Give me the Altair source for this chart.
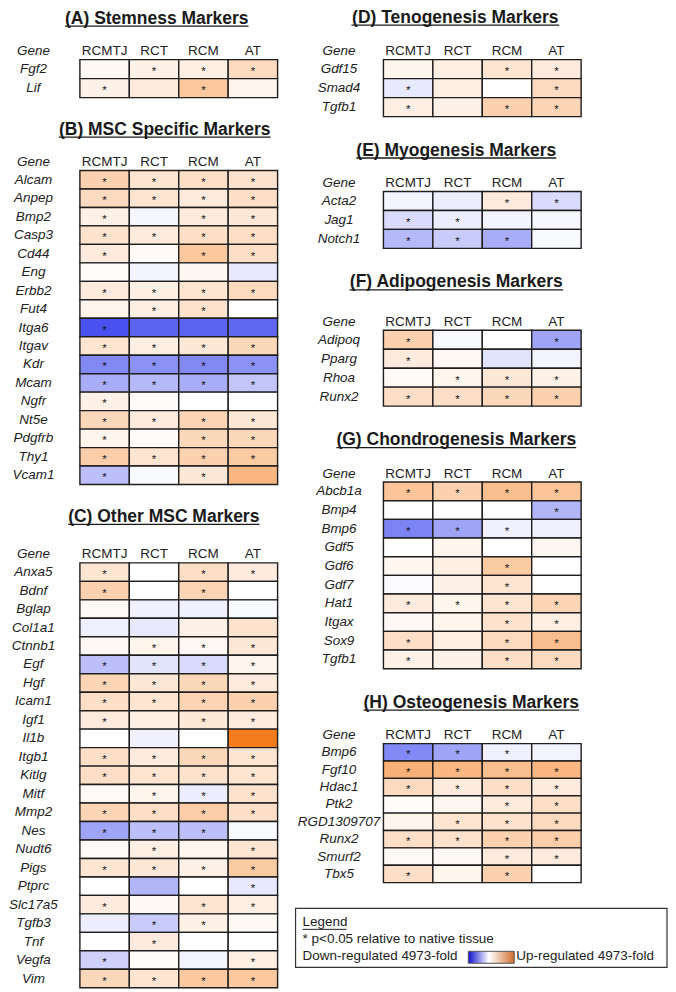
import altair as alt
import pandas as pd

CONDITIONS = ["RCMTJ", "RCT", "RCM", "AT"]

# ---- (A) Stemness Markers
A_GENES = ["Fgf2", "Lif"]
A_VALUES = [[0.05, 0.10, 0.12, 0.28],
            [0.10, 0.15, 0.42, 0.08]]
A_STARS = [[0, 1, 1, 1],
           [1, 0, 1, 0]]

# ---- (B) MSC Specific Markers
B_GENES = ["Alcam", "Anpep", "Bmp2", "Casp3", "Cd44", "Eng", "Erbb2", "Fut4", "Itga6",
           "Itgav", "Kdr", "Mcam", "Ngfr", "Nt5e", "Pdgfrb", "Thy1", "Vcam1"]
B_VALUES = [[0.35, 0.20, 0.25, 0.22],
            [0.28, 0.20, 0.15, 0.25],
            [0.10, -0.05, 0.15, 0.18],
            [0.22, 0.15, 0.25, 0.25],
            [0.15, 0.04, 0.42, 0.25],
            [0.02, -0.06, 0.06, -0.12],
            [0.15, 0.12, 0.20, 0.28],
            [0.08, 0.12, 0.22, 0.00],
            [-0.95, -0.85, -0.85, -0.83],
            [0.20, 0.12, 0.18, 0.30],
            [-0.65, -0.60, -0.65, -0.60],
            [-0.45, -0.38, -0.45, -0.32],
            [0.10, 0.03, 0.00, 0.00],
            [0.30, 0.15, 0.32, 0.18],
            [0.08, 0.03, 0.30, 0.30],
            [0.38, 0.20, 0.35, 0.40],
            [-0.35, -0.03, 0.18, 0.55]]
B_STARS = [[1, 1, 1, 1], [1, 1, 1, 1], [1, 0, 1, 1], [1, 1, 1, 1], [1, 0, 1, 1],
           [0, 0, 0, 0], [1, 1, 1, 1], [0, 1, 1, 0], [1, 0, 0, 0], [1, 1, 1, 1],
           [1, 1, 1, 1], [1, 1, 1, 1], [1, 0, 0, 0], [1, 1, 1, 1], [1, 0, 1, 1],
           [1, 1, 1, 1], [1, 0, 1, 0]]

# ---- (C) Other MSC Markers
C_GENES = ["Anxa5", "Bdnf", "Bglap", "Col1a1", "Ctnnb1", "Egf", "Hgf", "Icam1", "Igf1",
           "Il1b", "Itgb1", "Kitlg", "Mitf", "Mmp2", "Nes", "Nudt6", "Pigs", "Ptprc",
           "Slc17a5", "Tgfb3", "Tnf", "Vegfa", "Vim"]
C_VALUES = [[0.20, 0.00, 0.25, 0.15],
            [0.35, 0.00, 0.32, 0.00],
            [0.04, -0.08, -0.08, -0.03],
            [-0.08, -0.12, 0.10, 0.22],
            [0.05, 0.08, 0.05, 0.18],
            [-0.35, -0.15, -0.20, 0.08],
            [0.32, 0.18, 0.30, 0.15],
            [0.25, 0.20, 0.33, 0.35],
            [0.15, 0.12, 0.18, 0.15],
            [0.00, -0.08, 0.00, 1.00],
            [0.25, 0.15, 0.30, 0.20],
            [0.25, 0.20, 0.22, 0.20],
            [0.04, 0.08, -0.10, 0.22],
            [0.32, 0.25, 0.38, 0.25],
            [-0.50, -0.35, -0.35, -0.03],
            [0.03, 0.12, 0.07, 0.20],
            [0.20, 0.18, 0.10, 0.40],
            [0.00, -0.40, 0.00, -0.12],
            [0.15, 0.05, 0.20, 0.12],
            [-0.10, -0.28, 0.10, 0.05],
            [0.00, 0.15, 0.00, 0.00],
            [-0.25, 0.02, -0.06, 0.12],
            [0.30, 0.20, 0.42, 0.42]]
C_STARS = [[1, 0, 1, 1], [1, 0, 1, 0], [0, 0, 0, 0], [0, 0, 0, 0], [0, 1, 1, 1],
           [1, 1, 1, 1], [1, 1, 1, 1], [1, 1, 1, 1], [1, 0, 1, 1], [0, 0, 0, 0],
           [1, 1, 1, 1], [1, 1, 1, 1], [0, 1, 1, 1], [1, 1, 1, 1], [1, 1, 1, 0],
           [0, 1, 0, 1], [1, 1, 1, 1], [0, 0, 0, 1], [1, 0, 1, 1], [0, 1, 1, 0],
           [0, 1, 0, 0], [1, 0, 0, 1], [1, 1, 1, 1]]

# ---- (D) Tenogenesis Markers
D_GENES = ["Gdf15", "Smad4", "Tgfb1"]
D_VALUES = [[0.08, 0.12, 0.20, 0.15],
            [-0.12, 0.12, 0.00, 0.28],
            [0.12, 0.10, 0.35, 0.32]]
D_STARS = [[0, 0, 1, 1], [1, 0, 0, 1], [1, 0, 1, 1]]

# ---- (E) Myogenesis Markers
E_GENES = ["Acta2", "Jag1", "Notch1"]
E_VALUES = [[-0.06, -0.10, 0.15, -0.20],
            [-0.20, -0.10, -0.06, -0.04],
            [-0.38, -0.28, -0.45, -0.03]]
E_STARS = [[0, 0, 1, 1], [1, 1, 0, 0], [1, 1, 1, 0]]

# ---- (F) Adipogenesis Markers
F_GENES = ["Adipoq", "Pparg", "Rhoa", "Runx2"]
F_VALUES = [[0.35, -0.03, 0.00, -0.50],
            [0.15, 0.05, -0.15, -0.06],
            [0.04, 0.08, 0.18, 0.10],
            [0.25, 0.25, 0.30, 0.35]]
F_STARS = [[1, 0, 0, 1], [1, 0, 0, 0], [0, 1, 1, 1], [1, 1, 1, 1]]

# ---- (G) Chondrogenesis Markers
G_GENES = ["Abcb1a", "Bmp4", "Bmp6", "Gdf5", "Gdf6", "Gdf7", "Hat1", "Itgax", "Sox9", "Tgfb1"]
G_VALUES = [[0.45, 0.35, 0.50, 0.45],
            [0.00, 0.00, 0.00, -0.40],
            [-0.68, -0.50, -0.08, -0.08],
            [0.00, 0.08, 0.00, 0.06],
            [0.07, 0.12, 0.40, 0.00],
            [-0.02, 0.10, 0.20, 0.00],
            [0.15, 0.08, 0.20, 0.32],
            [0.05, 0.08, 0.22, 0.12],
            [0.25, 0.12, 0.28, 0.50],
            [0.10, 0.10, 0.25, 0.28]]
G_STARS = [[1, 1, 1, 1], [0, 0, 0, 1], [1, 1, 1, 0], [0, 0, 0, 0], [0, 0, 1, 0],
           [0, 0, 1, 0], [1, 1, 1, 1], [0, 0, 1, 1], [1, 0, 1, 1], [1, 0, 1, 1]]

# ---- (H) Osteogenesis Markers
H_GENES = ["Bmp6", "Fgf10", "Hdac1", "Ptk2", "RGD1309707", "Runx2", "Smurf2", "Tbx5"]
H_VALUES = [[-0.65, -0.50, -0.08, -0.06],
            [0.60, 0.55, 0.50, 0.55],
            [0.28, 0.15, 0.25, 0.15],
            [0.02, 0.06, 0.15, 0.25],
            [0.08, 0.20, 0.22, 0.28],
            [0.25, 0.22, 0.35, 0.38],
            [0.04, 0.05, 0.15, 0.15],
            [0.25, 0.08, 0.35, 0.00]]
H_STARS = [[1, 1, 1, 0], [1, 1, 1, 1], [1, 1, 1, 1], [0, 0, 1, 1], [0, 1, 1, 1],
           [1, 1, 1, 1], [0, 0, 1, 1], [1, 0, 1, 0]]

LEGEND_TITLE = "Legend"
LEGEND_NOTE = "* p<0.05 relative to native tissue"
LEGEND_DOWN = "Down-regulated 4973-fold"
LEGEND_UP = "Up-regulated 4973-fold"

FONT = "Liberation Sans"
INK = "#222222"
TITLE_SIZE = 17.5
COLOR_SCALE = alt.Scale(domain=[-1, 0, 1], range=["#3f48ee", "#ffffff", "#f57c1c"],
                        interpolate="rgb")

# Arial/Liberation Sans Bold advance widths (per 1000 em), used to size title underlines
BOLD_W = {" ": 278, "(": 333, ")": 333, "A": 722, "B": 722, "C": 722, "D": 722, "E": 667,
          "F": 611, "G": 778, "H": 722, "M": 833, "O": 778, "S": 667, "T": 611,
          "a": 556, "c": 556, "d": 611, "e": 556, "f": 333, "g": 611, "h": 611, "i": 278,
          "k": 556, "m": 889, "n": 611, "o": 611, "p": 611, "r": 389, "s": 556, "t": 333,
          "y": 556}


def text_width(s, size):
    return sum(BOLD_W.get(ch, 556) for ch in s) * size / 1000.0


def to_frame(genes, values, stars):
    rows = []
    for g, vrow, srow in zip(genes, values, stars):
        for c, v, s in zip(CONDITIONS, vrow, srow):
            rows.append({"gene": g, "cond": c, "value": v, "star": s})
    return pd.DataFrame(rows)


ONE = pd.DataFrame({"k": [0]})


def panel(title, genes, values, stars, row_h, label_pad, title_cx, title_cy):
    df = to_frame(genes, values, stars)
    base = alt.Chart(df)
    x = alt.X("cond:N", sort=CONDITIONS,
              scale=alt.Scale(paddingInner=0, paddingOuter=0),
              axis=alt.Axis(orient="top", title=None, labelAngle=0, domain=False, ticks=False,
                            labelPadding=2, labelFontSize=13.5, labelFont=FONT, labelColor=INK))
    y = alt.Y("gene:N", sort=genes,
              scale=alt.Scale(paddingInner=0, paddingOuter=0),
              axis=alt.Axis(title="Gene", titleAngle=0, titleX=-label_pad, titleY=-2,
                            titleAlign="center", titleBaseline="bottom",
                            titleFontStyle="italic", titleFontWeight="normal",
                            titleFontSize=13.5, titleFont=FONT, titleColor=INK,
                            domain=False, ticks=False, labelPadding=label_pad,
                            labelAlign="center", labelFontStyle="italic",
                            labelFontSize=13.5, labelFont=FONT, labelColor=INK))
    rect = base.mark_rect(stroke="#1e1e1e", strokeWidth=1.4).encode(
        x=x, y=y,
        color=alt.Color("value:Q", scale=COLOR_SCALE, legend=None),
    )
    star = base.transform_filter(alt.datum.star == 1).mark_text(
        text="*", fontSize=11.5, font=FONT, color="#111111", baseline="middle", dy=3
    ).encode(x=x, y=y)
    ttl = alt.Chart(ONE).mark_text(
        font=FONT, fontSize=TITLE_SIZE, fontWeight="bold", color="#1a1a1a",
        align="center", baseline="middle"
    ).encode(x=alt.value(title_cx), y=alt.value(title_cy), text=alt.value(title))
    half = text_width(title, TITLE_SIZE) / 2
    uline = alt.Chart(ONE).mark_rule(color="#1a1a1a", strokeWidth=1.3).encode(
        x=alt.value(title_cx - half), x2=alt.value(title_cx + half),
        y=alt.value(title_cy + 7.5))
    return alt.layer(rect, star, ttl, uline).properties(
        width=198, height=len(genes) * row_h)


LP_L = 47
LP_R = 45
pA = panel("(A) Stemness Markers", A_GENES, A_VALUES, A_STARS, 19, LP_L, 77, -41)
pB = panel("(B) MSC Specific Markers", B_GENES, B_VALUES, B_STARS, 18.5, LP_L, 85, -41)
pC = panel("(C) Other MSC Markers", C_GENES, C_VALUES, C_STARS, 18.5, LP_L, 84, -46)
pD = panel("(D) Tenogenesis Markers", D_GENES, D_VALUES, D_STARS, 19, LP_R, 72, -42)
pE = panel("(E) Myogenesis Markers", E_GENES, E_VALUES, E_STARS, 19, LP_R, 73, -41)
pF = panel("(F) Adipogenesis Markers", F_GENES, F_VALUES, F_STARS, 19, LP_R, 73, -48)
pG = panel("(G) Chondrogenesis Markers", G_GENES, G_VALUES, G_STARS, 18.7, LP_R, 73, -42)
pH = panel("(H) Osteogenesis Markers", H_GENES, H_VALUES, H_STARS, 17.4, LP_R, 88, -41)

box = alt.Chart(ONE).mark_rect(fill="white", stroke="#333333", strokeWidth=1.2).encode(
    x=alt.value(-88), x2=alt.value(284), y=alt.value(0), y2=alt.value(59))


def ltext(s, xpos, ypos):
    return alt.Chart(ONE).mark_text(align="left", baseline="middle", font=FONT, fontSize=13.5,
                                    color=INK).encode(
        x=alt.value(xpos), y=alt.value(ypos), text=alt.value(s))


underline = alt.Chart(ONE).mark_rule(color=INK, strokeWidth=1).encode(
    x=alt.value(-81), x2=alt.value(-37), y=alt.value(21))
grad = alt.Chart(ONE).mark_rect(
    fill={"gradient": "linear", "x1": 0, "y1": 0, "x2": 1, "y2": 0,
          "stops": [{"offset": 0, "color": "#1010d0"},
                    {"offset": 0.45, "color": "#ffffff"},
                    {"offset": 1, "color": "#cf6f2e"}]},
    stroke="#555555", strokeWidth=1).encode(
    x=alt.value(85), x2=alt.value(131), y=alt.value(43), y2=alt.value(55))

legend = alt.layer(
    box, ltext(LEGEND_TITLE, -81, 14), underline, ltext(LEGEND_NOTE, -81, 31),
    ltext(LEGEND_DOWN, -81, 48), grad, ltext(LEGEND_UP, 133, 48),
).properties(width=198, height=59)

left = alt.vconcat(pA, pB, pC, spacing=22)
right = alt.vconcat(pD, pE, pF, pG, pH, legend, spacing=24)

chart = alt.hconcat(left, right, spacing=16).properties(
    padding={"left": 0, "top": 0, "right": 0, "bottom": 0},
    background="white",
).configure_view(stroke=None)

chart.save("out.html", embed_options={"renderer": "svg", "actions": False})
